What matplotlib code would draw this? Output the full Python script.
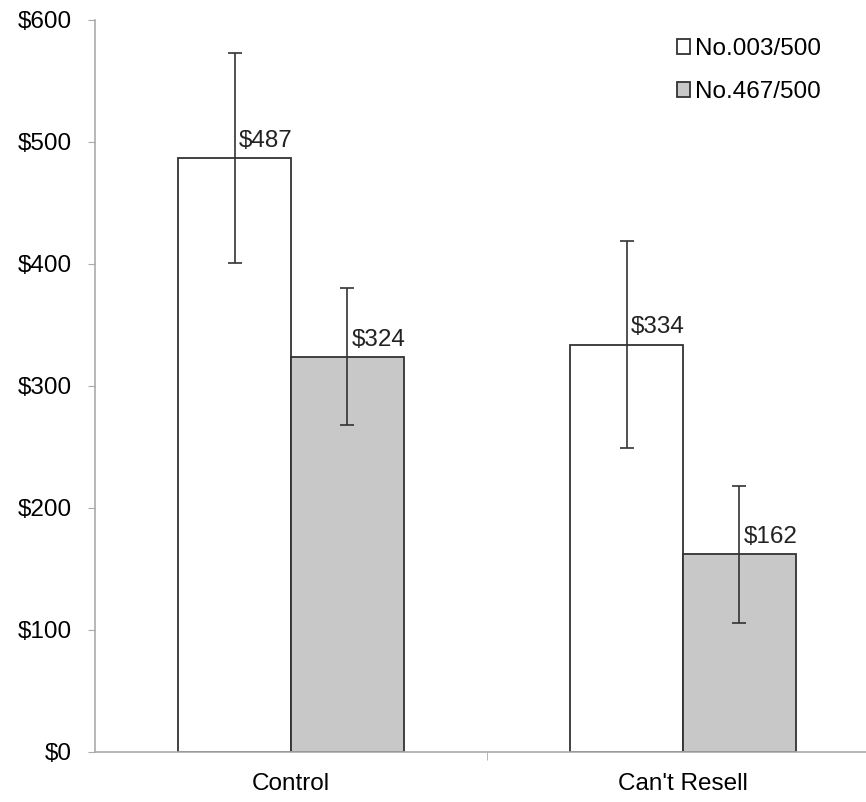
import matplotlib.pyplot as plt
import numpy as np

plt.rcParams['font.family'] = ['Liberation Sans', 'DejaVu Sans']

categories = ["Control", "Can't Resell"]
series_names = ["No.003/500", "No.467/500"]
low_num = [487, 334]     # No.003/500
high_num = [324, 162]    # No.467/500
low_err = [86, 85]
high_err = [56, 56]

fs = 17.5
fig = plt.figure(figsize=(8.66, 8.02), dpi=100)
ax = fig.add_axes([95 / 866, 50 / 802, 784 / 866, 732 / 802])

x = np.arange(len(categories))
w = 0.288
ekw = dict(ecolor='#333333', elinewidth=1.2, capsize=5, capthick=1.2)
ax.bar(x - w / 2, low_num, w, color='white', edgecolor='#333333',
       linewidth=1.3, yerr=low_err, error_kw=ekw, label=series_names[0])
ax.bar(x + w / 2, high_num, w, color='#c8c8c8', edgecolor='#333333',
       linewidth=1.3, yerr=high_err, error_kw=ekw, label=series_names[1])

for xs, vals in [(x - w / 2, low_num), (x + w / 2, high_num)]:
    for xi, v in zip(xs, vals):
        ax.text(xi + 0.01, v + 5, f"${v}", fontsize=fs, color='#222222',
                ha='left', va='bottom')

ax.set_xlim(-0.5, 1.5)
ax.set_ylim(0, 600)
ax.set_yticks(range(0, 601, 100))
ax.set_yticklabels([f"${t}" for t in range(0, 601, 100)])
ax.set_xticks(x)
ax.set_xticklabels(categories)
ax.set_xticks([0.5], minor=True)
ax.tick_params(axis='x', which='major', length=0, pad=15, labelsize=fs)
ax.tick_params(axis='x', which='minor', length=6, color='#aaaaaa', direction='out')
ax.tick_params(axis='y', length=5, color='#aaaaaa', labelsize=fs, pad=12)
for s in ['top', 'right']:
    ax.spines[s].set_visible(False)
for s in ['left', 'bottom']:
    ax.spines[s].set_color('#aaaaaa')
    ax.spines[s].set_linewidth(1.2)

ax.legend(loc='upper left', bbox_to_anchor=(0.714, 1.005), frameon=False,
          fontsize=fs, handlelength=0.55, handleheight=0.55,
          handletextpad=0.2, labelspacing=0.85)

fig.savefig('out.png', dpi=100)
